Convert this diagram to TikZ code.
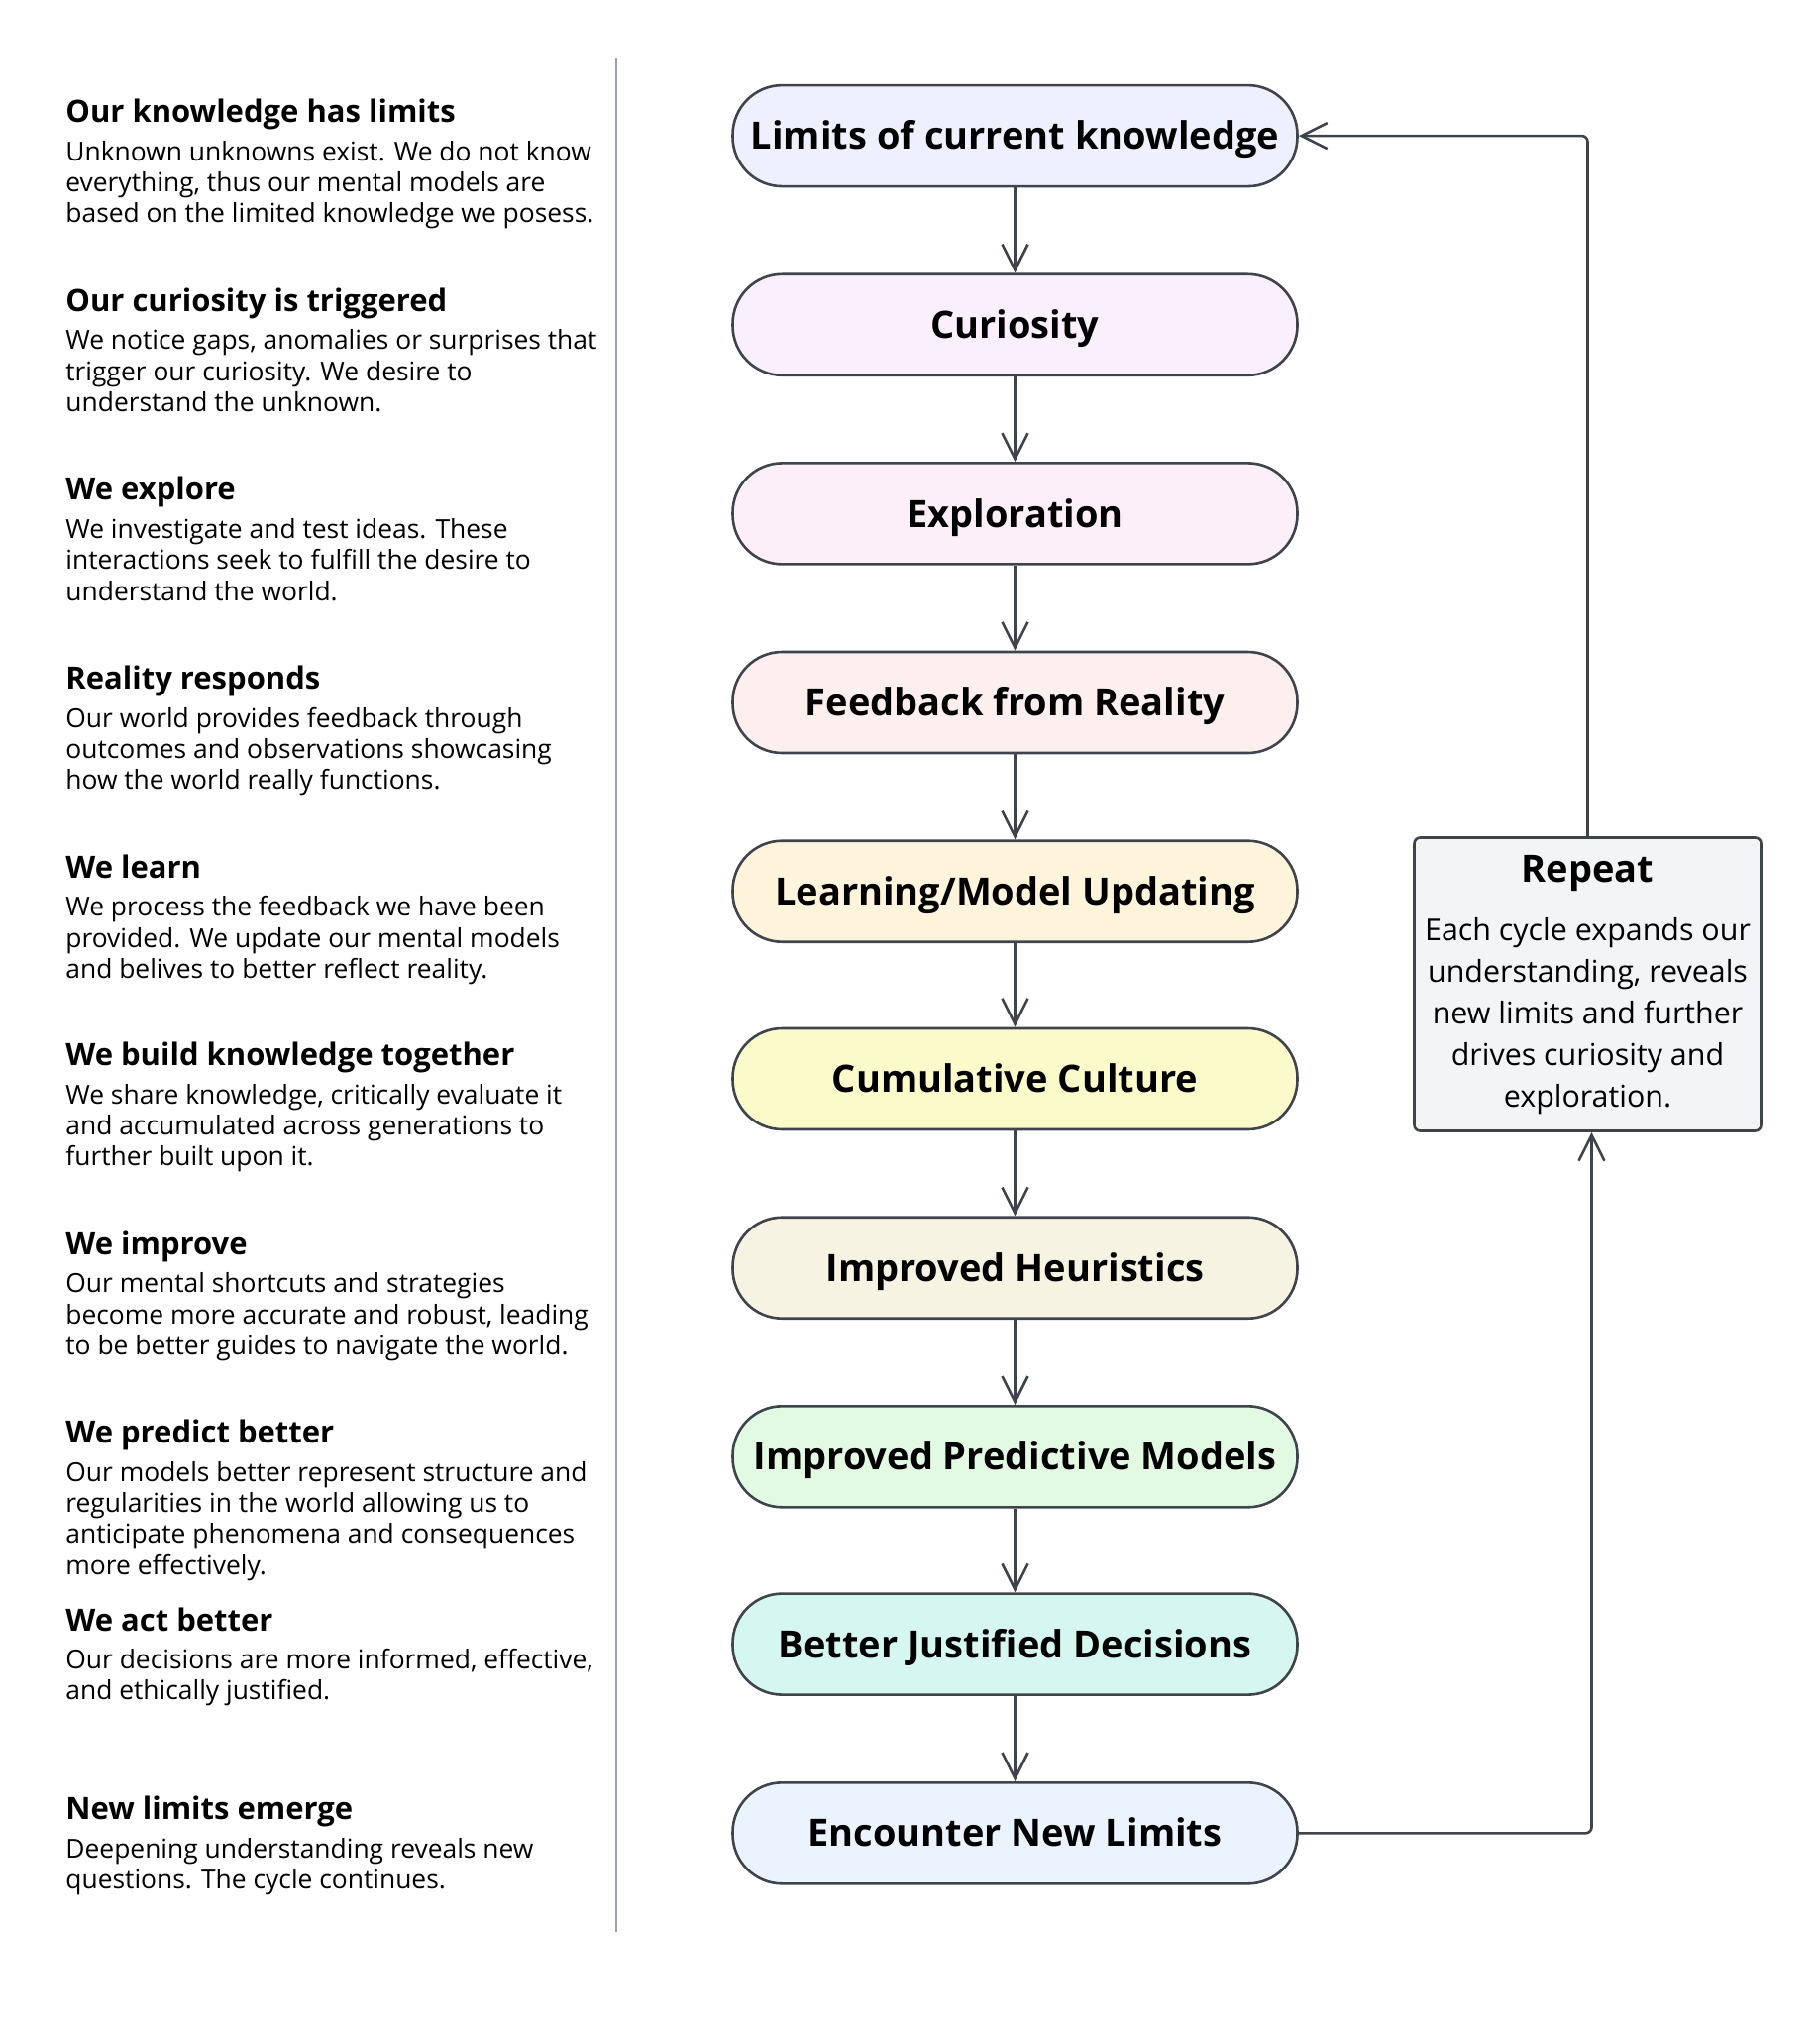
\documentclass[tikz,border=0pt]{standalone}
\usepackage{fontspec}
\setmainfont{Open Sans}
\usetikzlibrary{arrows.meta}

\definecolor{edge}{HTML}{3F444C}
\definecolor{sepline}{HTML}{9CA3AF}
\definecolor{cLimits}{HTML}{EEF0FD}
\definecolor{cCurio}{HTML}{FAEFFD}
\definecolor{cExplo}{HTML}{FDEFF8}
\definecolor{cFeed}{HTML}{FDEFEE}
\definecolor{cLearn}{HTML}{FEF3DB}
\definecolor{cCult}{HTML}{FAFACA}
\definecolor{cHeur}{HTML}{F6F3E3}
\definecolor{cPred}{HTML}{E2F9E2}
\definecolor{cDeci}{HTML}{D5F7F0}
\definecolor{cNew}{HTML}{EBF3FE}
\definecolor{cRepeat}{HTML}{F3F4F6}

\begin{document}
\begin{tikzpicture}[x=0.5pt, y=-0.5pt,
    pill/.style={rectangle, rounded corners=25pt, draw=edge, line width=1.3pt,
        minimum width=285pt, minimum height=51pt, inner sep=0pt,
        text height=13.6pt, text depth=0pt,
        font=\fontsize{19}{23}\selectfont\bfseries},
    arr/.style={draw=edge, line width=1.3pt, -{Straight Barb[length=13pt, width=13pt]}},
    head/.style={anchor=base west, inner sep=0pt, font=\fontsize{15.5}{18}\selectfont\bfseries},
    body/.style={anchor=base west, inner sep=0pt, align=left, font=\fontsize{13.2}{15.65}\selectfont}]
    \useasboundingbox (0,0) rectangle (1836,2048);

    % Separator
    \draw[sepline, line width=1pt] (622,59) -- (622,1950);

    % Left column: explanations (body nodes sit on their last line)
    \node[head] (h1) at (66,123.6) {Our knowledge has limits};
    \node[body] (b1) at (66,224.7) {Unknown unknowns exist. We do not know\\everything, thus our mental models are\\based on the limited knowledge we posess.};
    \node[head] (h2) at (66,314.3) {Our curiosity is triggered};
    \node[body] (b2) at (66,415.4) {We notice gaps, anomalies or surprises that\\trigger our curiosity. We desire to\\understand the unknown.};
    \node[head] (h3) at (66,504.9) {We explore};
    \node[body] (b3) at (66,606.0) {We investigate and test ideas. These\\interactions seek to fulfill the desire to\\understand the world.};
    \node[head] (h4) at (66,695.5) {Reality responds};
    \node[body] (b4) at (66,796.6) {Our world provides feedback through\\outcomes and observations showcasing\\how the world really functions.};
    \node[head] (h5) at (66,886.2) {We learn};
    \node[body] (b5) at (66,987.3) {We process the feedback we have been\\provided. We update our mental models\\and belives to better reflect reality.};
    \node[head] (h6) at (66,1075.5) {We build knowledge together};
    \node[body] (b6) at (66,1176.6) {We share knowledge, critically evaluate it\\and accumulated across generations to\\further built upon it.};
    \node[head] (h7) at (66,1266.2) {We improve};
    \node[body] (b7) at (66,1367.3) {Our mental shortcuts and strategies\\become more accurate and robust, leading\\to be better guides to navigate the world.};
    \node[head] (h8) at (66,1456.8) {We predict better};
    \node[body] (b8) at (66,1589.2) {Our models better represent structure and\\regularities in the world allowing us to\\anticipate phenomena and consequences\\more effectively.};
    \node[head] (h9) at (66,1646.1) {We act better};
    \node[body] (b9) at (66,1715.9) {Our decisions are more informed, effective,\\and ethically justified.};
    \node[head] (h10) at (66,1836.8) {New limits emerge};
    \node[body] (b10) at (66,1906.6) {Deepening understanding reveals new\\questions. The cycle continues.};

    % Main cycle
    \node[pill, fill=cLimits] (lim) at (1024.5,137.1) {Limits of current knowledge};
    \node[pill, fill=cCurio] (cur) at (1024.5,327.8) {Curiosity};
    \node[pill, fill=cExplo] (exp) at (1024.5,518.4) {Exploration};
    \node[pill, fill=cFeed] (fee) at (1024.5,709.0) {Feedback from Reality};
    \node[pill, fill=cLearn] (lea) at (1024.5,899.7) {Learning/Model Updating};
    \node[pill, fill=cCult] (cul) at (1024.5,1089.0) {Cumulative Culture};
    \node[pill, fill=cHeur] (heu) at (1024.5,1279.7) {Improved Heuristics};
    \node[pill, fill=cPred] (pre) at (1024.5,1470.3) {Improved Predictive Models};
    \node[pill, fill=cDeci] (dec) at (1024.5,1659.6) {Better Justified Decisions};
    \node[pill, fill=cNew] (enc) at (1024.5,1850.3) {Encounter New Limits};

    \draw[arr] (lim) -- (cur);
    \draw[arr] (cur) -- (exp);
    \draw[arr] (exp) -- (fee);
    \draw[arr] (fee) -- (lea);
    \draw[arr] (lea) -- (cul);
    \draw[arr] (cul) -- (heu);
    \draw[arr] (heu) -- (pre);
    \draw[arr] (pre) -- (dec);
    \draw[arr] (dec) -- (enc);

    % Repeat box
    \node[rectangle, rounded corners=3pt, draw=edge, line width=1.3pt, fill=cRepeat,
        minimum width=175pt, minimum height=148pt] (rep) at (1602.5,993.5) {};
    \node[anchor=base, inner sep=0pt, font=\fontsize{19}{23}\selectfont\bfseries] (reptitle) at (1602.5,890) {Repeat};
    \node[anchor=base, inner sep=0pt, align=center, font=\fontsize{15.2}{21}\selectfont] (reptext) at (1602.5,1117)
        {Each cycle expands our\\understanding, reveals\\new limits and further\\drives curiosity and\\exploration.};

    % Feedback loop
    \draw[arr, rounded corners=3pt] (enc.east) -| ([xshift=2pt]rep.south);
    \draw[arr, rounded corners=3pt] (rep.north) |- (lim.east);
\end{tikzpicture}
\end{document}
